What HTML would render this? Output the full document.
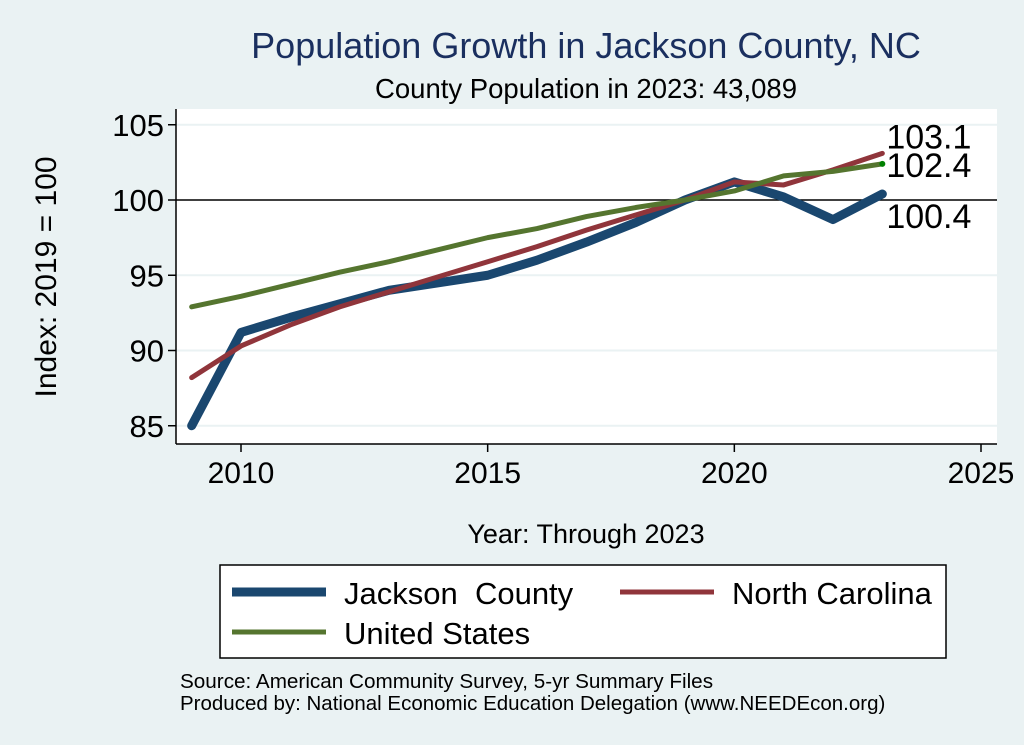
<!DOCTYPE html>
<html><head><meta charset="utf-8"><style>
body{margin:0;background:#eaf2f3;}
svg{display:block;font-family:"Liberation Sans",Arial,sans-serif;}
</style></head><body>
<svg id="chart" width="1024" height="745" viewBox="0 0 1024 745">
<rect x="0" y="0" width="1024" height="745" fill="#eaf2f3"/>
<text x="586" y="58" font-size="36" fill="#1a2f5f" text-anchor="middle">Population Growth in Jackson County, NC</text>
<text x="586" y="98" font-size="27.5" fill="#000" text-anchor="middle">County Population in 2023: 43,089</text>
<rect x="176" y="109" width="821" height="335" fill="#fff"/>
<g id="grid"></g>
<g id="series"></g>
<g id="axes"></g>
<text transform="translate(56,277) rotate(-90)" font-size="30" text-anchor="middle">Index: 2019 = 100</text>
<text x="586" y="543" font-size="27" text-anchor="middle">Year: Through 2023</text>
<g>
<rect x="220" y="565" width="726" height="93" fill="#fff" stroke="#000" stroke-width="1.5"/>
<line x1="232" y1="592" x2="326" y2="592" stroke="#1a476f" stroke-width="9"/>
<text x="344" y="604" font-size="31" style="white-space:pre">Jackson  County</text>
<line x1="620" y1="592" x2="714" y2="592" stroke="#90353b" stroke-width="5"/>
<text x="732" y="604" font-size="31">North Carolina</text>
<line x1="232" y1="632" x2="326" y2="632" stroke="#55752f" stroke-width="5"/>
<text x="344" y="644" font-size="31">United States</text>
</g>
<text x="180" y="688" font-size="20.7">Source: American Community Survey, 5-yr Summary Files</text>
<text x="180" y="710" font-size="20.5">Produced by: National Economic Education Delegation (www.NEEDEcon.org)</text>
</svg>
<script>
const years=[2009,2010,2011,2012,2013,2014,2015,2016,2017,2018,2019,2020,2021,2022,2023];
const jackson=[85.0,91.2,92.2,93.1,94.0,94.5,95.0,96.0,97.2,98.5,100,101.2,100.2,98.7,100.4];
const northCarolina=[88.2,90.3,91.7,92.9,93.9,94.9,95.9,96.9,98.0,99.0,100,101.2,101.0,102.0,103.1];
const unitedStates=[92.9,93.6,94.4,95.2,95.9,96.7,97.5,98.1,98.9,99.5,100,100.6,101.6,101.9,102.4];
const yTicks=[85,90,95,100,105];
const xTicks=[2010,2015,2020,2025];
const NS="http://www.w3.org/2000/svg";
function xs(v){return 241+(v-2010)*(981-241)/15;}
function ys(v){return 200-(v-100)*15.05;}
function mk(tag,attrs,parent){const e=document.createElementNS(NS,tag);for(const k in attrs)e.setAttribute(k,attrs[k]);parent.appendChild(e);return e;}
const grid=document.getElementById('grid'),axes=document.getElementById('axes'),ser=document.getElementById('series');
yTicks.forEach(t=>{
 const g=mk('line',{x1:176,x2:997,y1:ys(t),y2:ys(t),stroke:t===100?'#000':'#eaf2f3','stroke-width':t===100?1.5:2},grid);
 
 
 const tk=mk('line',{x1:168,x2:176,y1:ys(t),y2:ys(t),stroke:'#000','stroke-width':1.5},axes);
 
 
 const lb=mk('text',{x:164,y:ys(t)+11,'font-size':31,'text-anchor':'end'},axes);
 lb.textContent=t;
 
 
});
xTicks.forEach(t=>{
 const tk=mk('line',{x1:xs(t),x2:xs(t),y1:444,y2:452,stroke:'#000','stroke-width':1.5},axes);
 
 
 const lb=mk('text',{x:xs(t),y:483,'font-size':30,'text-anchor':'middle'},axes);
 lb.textContent=t;
 
 
});
const ya=mk('line',{x1:176,x2:176,y1:109,y2:444,stroke:'#000','stroke-width':1.5},axes);


const xa=mk('line',{x1:176,x2:997,y1:444,y2:444,stroke:'#000','stroke-width':1.5},axes);


function line(vals,color,w,name){
 const p=mk('polyline',{points:vals.map((v,i)=>xs(years[i])+','+ys(v)).join(' '),fill:'none',stroke:color,'stroke-width':w,'stroke-linejoin':'round','stroke-linecap':'round'},ser);
 
 
}
line(jackson,'#1a476f',9,'line-jackson');
line(northCarolina,'#90353b',5,'line-north-carolina');
line(unitedStates,'#55752f',5,'line-united-states');
const n=years.length-1,ex=xs(years[n]);
const dot=mk('circle',{cx:ex,cy:ys(unitedStates[n]),r:3,fill:'#008000'},ser);


[[northCarolina[n],ys(northCarolina[n])-5,'end-label-nc'],[unitedStates[n],ys(unitedStates[n])+13,'end-label-us'],[jackson[n],ys(jackson[n])+34,'end-label-jackson']].forEach(([v,y,nm])=>{
 const t=mk('text',{x:ex+4,y:y,'font-size':34},ser);
 t.textContent=v.toFixed(1);
 
 
});
</script>
</body></html>
